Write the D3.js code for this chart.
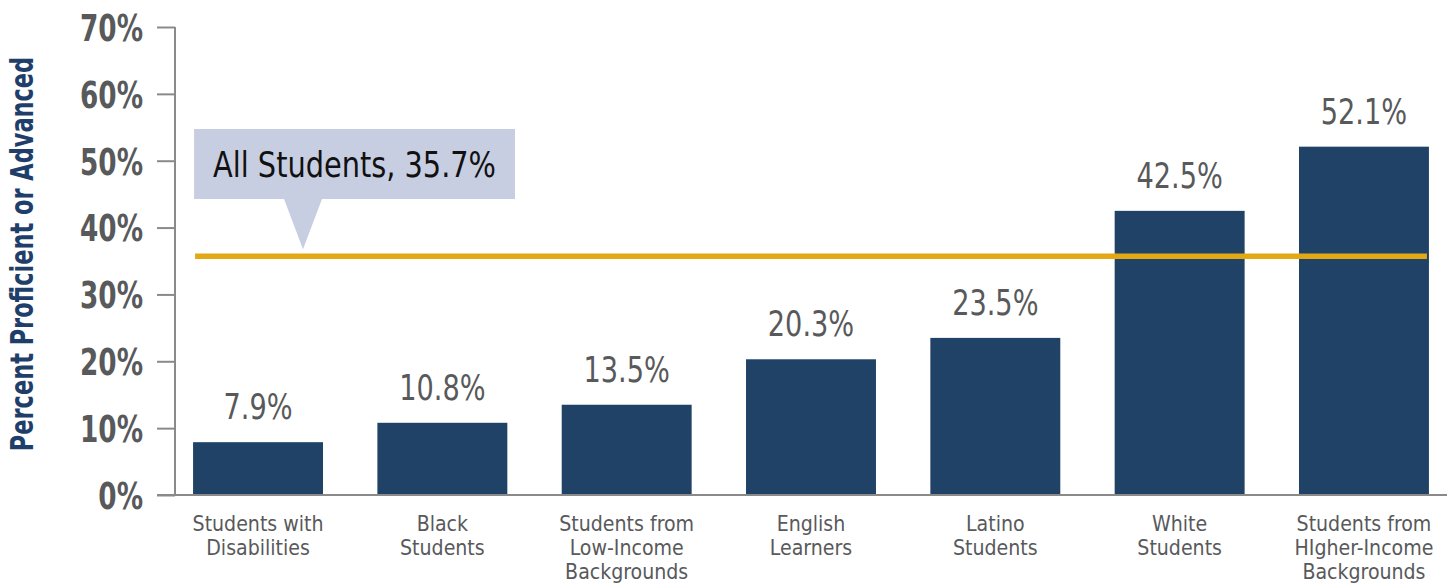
<!DOCTYPE html>
<html>
<head>
<meta charset="utf-8">
<script src="https://cdn.jsdelivr.net/npm/d3@7"></script>
<style>
  html, body { margin: 0; padding: 0; background: #fff; }
  svg { display: block; }
  text { font-family: "DejaVu Sans Condensed", "DejaVu Sans", sans-serif; }
</style>
</head>
<body>
<svg id="chart" width="1453" height="584"></svg>
<script>
// Proficiency rates by student group
const categories = [
  ["Students with", "Disabilities"],
  ["Black", "Students"],
  ["Students from", "Low-Income", "Backgrounds"],
  ["English", "Learners"],
  ["Latino", "Students"],
  ["White", "Students"],
  ["Students from", "HIgher-Income", "Backgrounds"]
];
const values = [7.9, 10.8, 13.5, 20.3, 23.5, 42.5, 52.1];
const allStudents = 35.7;
const allStudentsLabel = "All Students, 35.7%";
const yTicks = [0, 10, 20, 30, 40, 50, 60, 70];
const yTitle = "Percent Proficient or Advanced";

const svg = d3.select("#chart");
const plot = { left: 175, right: 1447, top: 27, bottom: 495 };

// Horizontal squeeze that gives the condensed lettering
const squeeze = { tick: 0.79, value: 0.84, callout: 0.915, category: 0.96, title: 0.78 };

const x = d3.scaleBand()
  .domain(d3.range(categories.length))
  .range([plot.left, plot.right])
  .paddingInner(0.295)
  .paddingOuter(0.098);

const y = d3.scaleLinear().domain([0, 70]).range([plot.bottom, plot.top]);

const grey = "#58595b";
const axisGrey = "#8a8a8a";

// Y axis
const yAxis = svg.append("g")
  .attr("transform", `translate(${plot.left},0)`)
  .call(d3.axisLeft(y).tickValues(yTicks).tickSize(18).tickPadding(14).tickFormat(d => d + "%"));
yAxis.select(".domain").attr("stroke", axisGrey).attr("stroke-width", 2)
  .attr("d", `M0,${plot.top}V${plot.bottom}`);
yAxis.selectAll(".tick line").attr("stroke", axisGrey).attr("stroke-width", 2);
yAxis.selectAll(".tick text")
  .attr("x", 0)
  .attr("transform", `translate(-32,0) scale(${squeeze.tick},1)`)
  .attr("fill", grey)
  .attr("font-size", 37)
  .attr("font-weight", "bold")
  .attr("dy", "0.36em")
  .style("font-family", "'DejaVu Sans Condensed', 'DejaVu Sans', sans-serif");

// Bars
svg.append("g").selectAll("rect")
  .data(values)
  .join("rect")
  .attr("x", (d, i) => x(i))
  .attr("width", x.bandwidth())
  .attr("y", d => y(d))
  .attr("height", d => y(0) - y(d))
  .attr("fill", "#1f4266");

// X axis baseline
svg.append("line")
  .attr("x1", plot.left - 18).attr("x2", plot.right)
  .attr("y1", y(0)).attr("y2", y(0))
  .attr("stroke", axisGrey).attr("stroke-width", 2);

// Value labels
svg.append("g").selectAll("text")
  .data(values)
  .join("text")
  .attr("transform", (d, i) => `translate(${x(i) + x.bandwidth() / 2},${y(d) - 23}) scale(${squeeze.value},1)`)
  .attr("text-anchor", "middle")
  .attr("fill", grey)
  .attr("font-size", 36)
  .text(d => d.toFixed(1) + "%");

// Category labels, one text per line
const catGroups = svg.append("g").selectAll("g")
  .data(categories)
  .join("g")
  .attr("transform", (d, i) => `translate(${x(i) + x.bandwidth() / 2},531)`);
catGroups.selectAll("text")
  .data(d => d)
  .join("text")
  .attr("transform", (d, i) => `translate(0,${i * 24}) scale(${squeeze.category},1)`)
  .attr("text-anchor", "middle")
  .attr("fill", grey)
  .attr("font-size", 22)
  .text(d => d);

// All-students reference line
const avgY = y(allStudents);
svg.append("line")
  .attr("x1", x(0) + 2).attr("x2", x(categories.length - 1) + x.bandwidth() - 2)
  .attr("y1", avgY).attr("y2", avgY)
  .attr("stroke", "#e2a915").attr("stroke-width", 5.5);

// Callout box with pointer
const box = { x0: x(0) + 1, x1: 515, y0: 129, y1: 199 };
const tipX = 303;
svg.append("path")
  .attr("d", `M${box.x0},${box.y0}H${box.x1}V${box.y1}H${tipX + 19}L${tipX},${avgY - 7}L${tipX - 19},${box.y1}H${box.x0}Z`)
  .attr("fill", "#c8cee2");
svg.append("text")
  .attr("transform", `translate(213,177) scale(${squeeze.callout},1)`)
  .attr("fill", "#111")
  .attr("font-size", 35)
  .text(allStudentsLabel);

// Y axis title
svg.append("text")
  .attr("transform", `translate(33,254) rotate(-90) scale(${squeeze.title},1)`)
  .attr("text-anchor", "middle")
  .attr("fill", "#1f3f6a")
  .attr("font-size", 32)
  .attr("font-weight", "bold")
  .text(yTitle);
</script>
</body>
</html>
